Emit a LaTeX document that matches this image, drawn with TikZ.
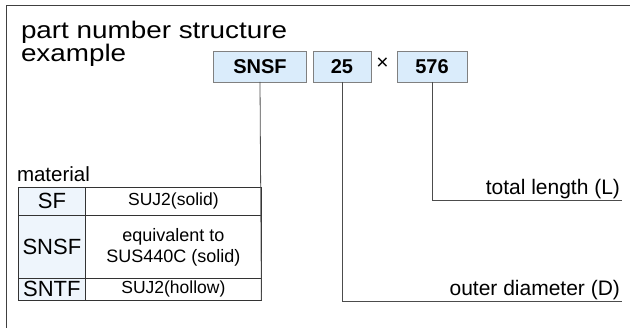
\documentclass[tikz,border=0pt]{standalone}
\usepackage{fontspec}
\setmainfont{Liberation Sans}
\newfontfamily\widefont[FakeStretch=1.16]{Liberation Sans}
\definecolor{boxblue}{RGB}{218,236,251}
\definecolor{cellblue}{RGB}{238,245,252}
\begin{document}
\begin{tikzpicture}[x=1pt,y=-1pt,line width=0.8pt,
  every node/.style={inner sep=0pt,outer sep=0pt},
  pnbox/.style={draw=black!50,fill=boxblue,minimum height=31pt,
    font=\fontsize{20}{24}\selectfont\bfseries},
  code/.style={draw=black!80,fill=cellblue,minimum width=67pt,
    font=\fontsize{22}{24}\selectfont},
  desc/.style={draw=black!80,minimum width=176pt,align=center,
    font=\fontsize{17.5}{21}\selectfont},
  lbl/.style={inner xsep=2pt,inner ysep=1.5pt,font=\fontsize{21}{24}\selectfont}]
  \useasboundingbox (0,0) rectangle (630,328);
  \draw[black!75] (6,328) |- (630,5);
  \node[anchor=base west,align=left,font=\widefont\fontsize{24}{20.5}\selectfont] (title) at (21,62) {part number structure\\example};
  \node[pnbox,minimum width=93pt] (b1) at (260,66.5) {SNSF};
  \node[pnbox,minimum width=58pt] (b2) at (342,66.5) {25};
  \node[font=\fontsize{21}{24}\selectfont] (x) at (382.5,64) {×};
  \node[pnbox,minimum width=70pt] (b3) at (432,66.5) {576};
  \node[anchor=base west,font=\fontsize{20.5}{24}\selectfont] (mat) at (17,182) {material};
  \matrix (tab) [anchor=north west,row sep=-0.8pt,column sep=-0.8pt] at (18,187)
  {
    \node[code,minimum height=28pt] (c1) {SF}; & \node[desc,minimum height=28pt] (d1) {SUJ2(solid)}; \\
    \node[code,minimum height=63pt] (c2) {SNSF}; & \node[desc,minimum height=63pt,font=\fontsize{18}{21}\selectfont] (d2) {equivalent to\\SUS440C (solid)}; \\
    \node[code,minimum height=22pt] (c3) {SNTF}; & \node[desc,minimum height=22pt] (d3) {SUJ2(hollow)}; \\
  };
  \node[lbl,anchor=south east] (tl) at (622,200) {total length (L)};
  \node[lbl,anchor=south east] (od) at (622,301) {outer diameter (D)};
  \draw[black!70] (b1.south) -- (d3.south east);
  \draw[black!70] (b2.south) |- (od.south east);
  \draw[black!70] (b3.south) |- (tl.south east);
\end{tikzpicture}
\end{document}
